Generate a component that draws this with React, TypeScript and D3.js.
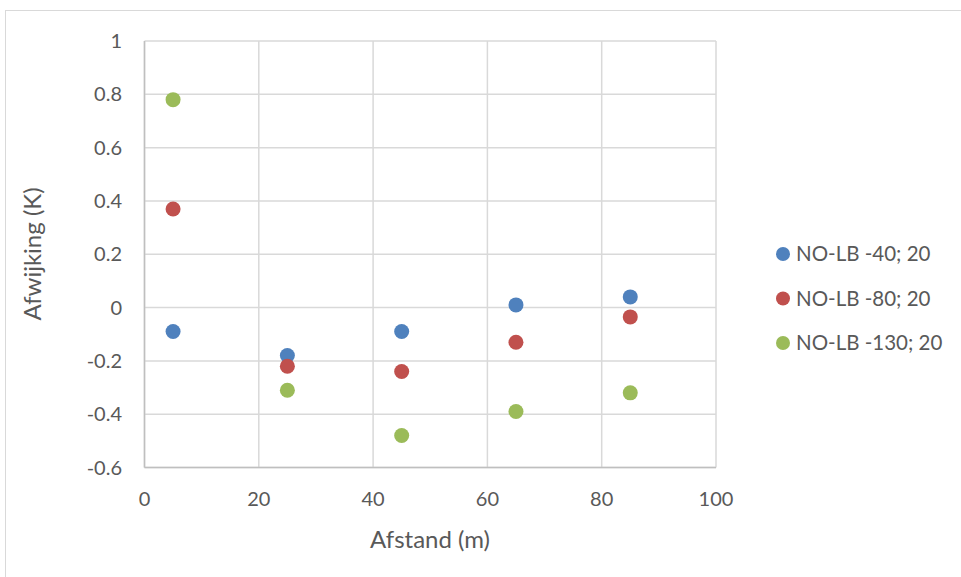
import React from "react";
import * as d3 from "d3";

const distances = [5, 25, 45, 65, 85];
const seriesNames = ["NO-LB -40; 20", "NO-LB -80; 20", "NO-LB -130; 20"];
const series40 = [-0.09, -0.18, -0.09, 0.01, 0.04];
const series80 = [0.37, -0.22, -0.24, -0.13, -0.035];
const series130 = [0.78, -0.31, -0.48, -0.39, -0.32];
const xTicks = [0, 20, 40, 60, 80, 100];
const yTicks = [-0.6, -0.4, -0.2, 0, 0.2, 0.4, 0.6, 0.8, 1];
const colors = ["#4F81BD", "#C0504D", "#9BBB59"];

const W = 961;
const H = 577;
const FONT = "Lato, 'Open Sans', sans-serif";

export default function App() {
  const x = d3.scaleLinear().domain([0, 100]).range([144.5, 716]);
  const y = d3.scaleLinear().domain([-0.6, 1]).range([467.5, 41]);
  const allSeries = [series40, series80, series130];
  const fmtY = (v: number) => String(+v.toFixed(1));

  return (
    <div style={{ position: "absolute", left: 0, top: 0 }}>
      <svg width={W} height={H} style={{ display: "block", background: "#fff" }}>
        <rect x={5.5} y={10.5} width={W} height={H} fill="#fff" stroke="#d9d9d9" strokeWidth={1} />
        {yTicks.map((t) => (
          <line key={"gy" + t} x1={x(0)} x2={x(100)} y1={y(t)} y2={y(t)} stroke="#d9d9d9" strokeWidth={1.5} />
        ))}
        {xTicks.map((t) => (
          <line key={"gx" + t} x1={x(t)} x2={x(t)} y1={y(1)} y2={y(-0.6)} stroke="#d9d9d9" strokeWidth={1.5} />
        ))}
        <line x1={x(0)} x2={x(0)} y1={y(1)} y2={y(-0.6)} stroke="#bfbfbf" strokeWidth={1.5} />
        <line x1={x(0)} x2={x(100)} y1={y(-0.6)} y2={y(-0.6)} stroke="#bfbfbf" strokeWidth={1.5} />
        {yTicks.map((t) => (
          <text key={"ty" + t} x={122} y={y(t)} dy="0.35em" textAnchor="end" fontFamily={FONT} fontSize={20} fill="#595959">
            {fmtY(t)}
          </text>
        ))}
        {xTicks.map((t) => (
          <text key={"tx" + t} x={x(t)} y={499} dy="0.35em" textAnchor="middle" fontFamily={FONT} fontSize={20} fill="#595959">
            {t}
          </text>
        ))}
        <text x={430} y={540} dy="0.35em" textAnchor="middle" fontFamily={FONT} fontSize={24} fill="#595959">
          Afstand (m)
        </text>
        <text
          transform={`translate(33,254) rotate(-90)`}
          dy="0.35em"
          textAnchor="middle"
          fontFamily={FONT}
          fontSize={24}
          fill="#595959"
        >
          Afwijking (K)
        </text>
        {allSeries.map((s, i) =>
          s.map((v, j) => (
            <circle key={`p${i}-${j}`} cx={x(distances[j])} cy={y(v)} r={7.5} fill={colors[i]} />
          ))
        )}
        {seriesNames.map((n, i) => (
          <g key={"lg" + i} transform={`translate(783,${254 + i * 44.5})`}>
            <circle cx={0} cy={0} r={7} fill={colors[i]} />
            <text x={13} y={0} dy="0.35em" fontFamily={FONT} fontSize={20.5} fill="#595959">
              {n}
            </text>
          </g>
        ))}
      </svg>
    </div>
  );
}
